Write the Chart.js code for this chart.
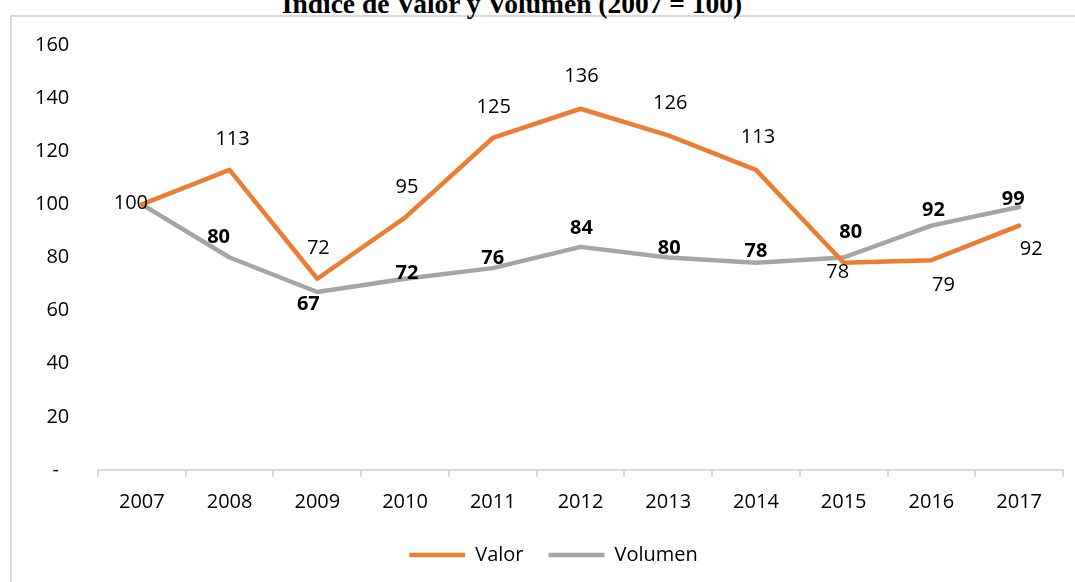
<!DOCTYPE html>
<html lang="es">
<head>
    <meta charset="UTF-8">
    <title>Índice de Valor y Volumen</title>
    <script src="https://cdn.jsdelivr.net/npm/chart.js"></script>
    <style>
        body {
            margin: 0;
            width: 1075px;
            height: 582px;
            overflow: hidden;
            background: #fff;
            position: relative;
        }
        .frame {
            position: absolute;
            left: 10px;
            top: 15px;
            width: 1200px;
            height: 700px;
            border-left: 2px solid #d9d9d9;
            border-top: 2px solid #d9d9d9;
        }
        .title {
            position: absolute;
            left: 512px;
            top: -10px;
            transform: translateX(-50%);
            font-family: 'Liberation Serif', 'Times New Roman', serif;
            font-weight: bold;
            font-size: 27.5px;
            line-height: 28px;
            white-space: nowrap;
            color: #000;
        }
        .chart-box {
            position: absolute;
            left: 0;
            top: 0;
            width: 1075px;
            height: 582px;
        }
    </style>
</head>
<body>
    <div class="frame"></div>
    <div class="title">Índice de Valor y Volumen (2007 = 100)</div>
    <div class="chart-box">
        <canvas id="indexChart"></canvas>
    </div>

    <script>
        const years = ['2007', '2008', '2009', '2010', '2011', '2012', '2013', '2014', '2015', '2016', '2017'];
        const valor = [100, 113, 72, 95, 125, 136, 126, 113, 78, 79, 92];
        const volumen = [100, 80, 67, 72, 76, 84, 80, 78, 80, 92, 99];
        const yTicks = [0, 20, 40, 60, 80, 100, 120, 140, 160];

        // label nudges (px, relative to each point) – Excel labels were moved by hand
        const valorLabelShift = [[-11, -1], [3, -31], [1, -30], [2, -30], [1, -31], [1, -32], [2, -32], [2, -33], [-6, 9], [12, 25], [12, 24]];
        const volumenLabelShift = [null, [-11, -20], [-9, 12], [2, -5], [0, -10], [1, -19], [1, -9], [0, -12], [7, -25], [2, -15], [-6, -8]];

        const pointLabels = {
            id: 'pointLabels',
            afterDatasetsDraw(chart) {
                const ctx = chart.ctx;
                chart.data.datasets.forEach((ds, i) => {
                    const meta = chart.getDatasetMeta(i);
                    meta.data.forEach((pt, j) => {
                        const shift = ds.labelShift[j];
                        if (!shift) return;
                        ctx.save();
                        ctx.font = (ds.labelBold ? 'bold ' : '') + '20px "Open Sans"';
                        ctx.fillStyle = '#000';
                        ctx.textAlign = 'center';
                        ctx.textBaseline = 'middle';
                        ctx.fillText(String(ds.data[j]), pt.x + shift[0], pt.y + shift[1]);
                        ctx.restore();
                    });
                });
            }
        };

        Chart.defaults.font.family = '"Open Sans", sans-serif';
        Chart.defaults.font.size = 20;
        Chart.defaults.color = '#000';

        new Chart(document.getElementById('indexChart'), {
            type: 'line',
            data: {
                labels: years,
                datasets: [{
                    label: 'Valor',
                    data: valor,
                    borderColor: '#ED7D31',
                    backgroundColor: '#ED7D31',
                    borderWidth: 4.5,
                    borderCapStyle: 'round',
                    borderJoinStyle: 'round',
                    pointRadius: 0,
                    tension: 0,
                    labelShift: valorLabelShift,
                    labelBold: false
                }, {
                    label: 'Volumen',
                    data: volumen,
                    borderColor: '#A5A5A5',
                    backgroundColor: '#A5A5A5',
                    borderWidth: 4.5,
                    borderCapStyle: 'round',
                    borderJoinStyle: 'round',
                    pointRadius: 0,
                    tension: 0,
                    labelShift: volumenLabelShift,
                    labelBold: true
                }]
            },
            options: {
                responsive: true,
                maintainAspectRatio: false,
                animation: false,
                layout: { padding: { top: 45, right: 12, bottom: 7, left: 44 } },
                plugins: {
                    title: { display: false },
                    tooltip: { enabled: false },
                    legend: {
                        position: 'bottom',
                        labels: {
                            usePointStyle: true,
                            pointStyle: 'line',
                            pointStyleWidth: 56,
                            padding: 25,
                            font: { size: 20 },
                            color: '#000'
                        }
                    }
                },
                scales: {
                    x: {
                        offset: true,
                        afterFit(scale) { scale.height = 50; },
                        grid: {
                            offset: true,
                            drawOnChartArea: false,
                            drawTicks: true,
                            tickLength: 7,
                            color: '#d9d9d9',
                            lineWidth: 2
                        },
                        border: { display: true, color: '#d9d9d9', width: 2 },
                        ticks: { padding: 13, maxRotation: 0 }
                    },
                    y: {
                        min: 0,
                        max: 160,
                        afterFit(scale) { scale.width = 54; },
                        afterBuildTicks(scale) { scale.ticks = yTicks.map(v => ({ value: v })); },
                        grid: { display: false, drawTicks: false },
                        border: { display: false },
                        ticks: {
                            mirror: true,
                            crossAlign: 'far',
                            padding: -63,
                            callback: v => v === 0 ? '-  ' : v
                        }
                    }
                }
            },
            plugins: [pointLabels]
        });
    </script>
</body>
</html>
